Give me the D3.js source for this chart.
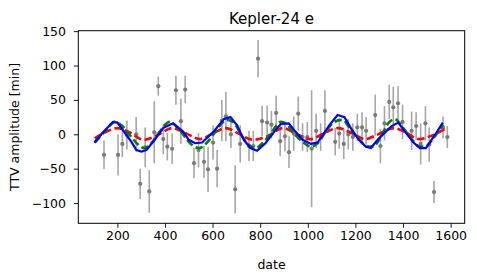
<!DOCTYPE html>
<html>
<head>
<meta charset="utf-8">
<script src="https://cdn.jsdelivr.net/npm/d3@7"></script>
<style>
body { margin: 0; background: #fff; }
text { font-family: "DejaVu Sans", sans-serif; }
.tick text { font-size: 12.5px; fill: #000; }
.label { font-size: 12.5px; }
.title { font-size: 15px; }
</style>
</head>
<body>
<svg id="graph1"></svg>
<script>
// observed transit times
var dates = [144,203,221,240,279,296,317,334,355,372,393,410,430,446,467,485,522,541,564,581,602,619,639,656,677,695,716,753,771,791,808,829,847,867,884,904,921,941,960,978,998,1016,1035,1054,1072,1115,1132,1151,1170,1189,1208,1228,1245,1283,1305,1322,1342,1359,1379,1398,1436,1455,1474,1494,1510,1530,1568,1586]
var ttv = [-30,-30,-14,-1,0,-72,-19,-83,3,70,-7,-18,-21,64,19,65,-42,-23,-40,-51,-12,-50,20,26,0,-80,-14,-17,-17,110,19,17,14,31,-10,-3,-26,1,30,-4,-4,-21,5,-4,34,-11,1,-14,0,-4,10,10,5,28,-17,16,47,39,45,18,5,12,-14,16,-15,-84,10,-4]
var errs = [21,30,19,21,25,22,29,31,45,14,22,20,22,21,33,20,22,25,23,33,25,27,30,36,20,35,27,22,22,27,22,25,20,25,22,22,23,25,25,20,22,85,25,20,30,20,22,22,22,20,20,22,20,30,25,25,25,30,25,25,28,20,30,25,25,16,16,16]

// model curves [date, ttv]
var redModel = [[105,-6],[150,3],[200,9],[250,3],[310,-8],[370,-1],[430,9],[490,1],[548,-7],[600,1],[655,9],[710,1],[770,-8],[830,-3],[895,9],[960,-1],[1010,-7],[1070,2],[1125,9],[1190,1],[1240,-7],[1290,-1],[1360,9],[1410,3],[1468,-7],[1520,-2],[1576,8]]
var greenModel = [[106,-12],[150,5],[190,18],[217,13],[252,-1],[287,-15],[315,-20],[343,-13],[378,4],[420,18],[462,6],[506,-13],[542,-20],[577,-12],[612,4],[661,21],[689,17],[724,-3],[752,-15],[780,-20],[815,-11],[850,4],[887,18],[910,15],[943,1],[978,-11],[1013,-18],[1041,-13],[1076,4],[1111,18],[1146,21],[1181,6],[1216,-8],[1251,-18],[1275,-18],[1310,-1],[1338,16],[1366,22],[1401,9],[1436,-7],[1464,-17],[1492,-18],[1527,-6],[1567,14]]
var blueModel = [[103,-12],[140,3],[182,18],[200,17],[230,3],[259,-11],[280,-23],[301,-25],[322,-23],[357,-8],[392,9],[434,16],[476,4],[500,-8],[527,-13],[556,-12],[605,4],[647,22],[675,25],[703,13],[731,-8],[759,-20],[787,-24],[822,-13],[871,9],[887,15],[920,16],[943,6],[978,-8],[1013,-14],[1041,-12],[1090,13],[1125,28],[1154,25],[1181,9],[1210,-6],[1244,-18],[1265,-20],[1296,-7],[1331,5],[1352,12],[1380,17],[1408,4],[1444,-12],[1471,-20],[1496,-20],[1534,-1],[1567,17]]

var xTicks = [200,400,600,800,1000,1200,1400,1600]
var yTicks = [-100,-50,0,50,100,150]

var screen = {width: 477, height: 276}
var margins = {left: 78.3, right: 12.3, top: 30.7, bottom: 52.7}
var graph = {
    width: screen.width - margins.left - margins.right,
    height: screen.height - margins.top - margins.bottom
}

var svg = d3.select("#graph1")
    .attr("width", screen.width)
    .attr("height", screen.height)

var target = svg.append("g")
    .attr("transform", "translate(" + margins.left + "," + margins.top + ")")

var xScale = d3.scaleLinear()
    .domain([36, 1659])
    .range([0, graph.width])

var yScale = d3.scaleLinear()
    .domain([-129.4, 150.6])
    .range([graph.height, 0])

// error bars
var pts = target.append("g")
pts.selectAll("line")
    .data(dates)
    .enter()
    .append("line")
    .attr("x1", function(d) { return xScale(d) })
    .attr("x2", function(d) { return xScale(d) })
    .attr("y1", function(d, i) { return yScale(ttv[i] - errs[i]) })
    .attr("y2", function(d, i) { return yScale(ttv[i] + errs[i]) })
    .attr("stroke", "#a6a6a6")
    .attr("stroke-width", 1.6)

pts.selectAll("circle")
    .data(dates)
    .enter()
    .append("circle")
    .attr("cx", function(d) { return xScale(d) })
    .attr("cy", function(d, i) { return yScale(ttv[i]) })
    .attr("r", 2.1)
    .attr("fill", "#7a7a7a")

var line = d3.line()
    .x(function(d) { return xScale(d[0]) })
    .y(function(d) { return yScale(d[1]) })

target.append("path")
    .datum(redModel)
    .attr("d", line.curve(d3.curveMonotoneX))
    .attr("fill", "none")
    .attr("stroke", "red")
    .attr("stroke-width", 2.6)
    .attr("stroke-dasharray", "7.5,3.5")

target.append("path")
    .datum(greenModel)
    .attr("d", line.curve(d3.curveMonotoneX))
    .attr("fill", "none")
    .attr("stroke", "green")
    .attr("stroke-width", 2.6)
    .attr("stroke-dasharray", "7.5,3.5")

target.append("path")
    .datum(blueModel)
    .attr("d", line.curve(d3.curveLinear))
    .attr("fill", "none")
    .attr("stroke", "blue")
    .attr("stroke-width", 2.2)

// axes
var xAxis = d3.axisBottom(xScale).tickValues(xTicks).tickSize(4.5).tickPadding(3).tickFormat(d3.format("d"))
var yAxis = d3.axisLeft(yScale).tickValues(yTicks).tickSize(4.5).tickPadding(7.8).tickFormat(d3.format("d"))

target.append("g")
    .attr("transform", "translate(0," + graph.height + ")")
    .call(xAxis)

target.append("g")
    .call(yAxis)

target.selectAll(".domain").remove()
target.selectAll(".tick line").attr("stroke", "#000").attr("stroke-width", 0.9)

target.append("rect")
    .attr("width", graph.width)
    .attr("height", graph.height)
    .attr("fill", "none")
    .attr("stroke", "#000")
    .attr("stroke-width", 1)

// labels
svg.append("text")
    .text("Kepler-24 e")
    .classed("title", true)
    .attr("text-anchor", "middle")
    .attr("x", margins.left + graph.width / 2)
    .attr("y", 24)

svg.append("text")
    .text("date")
    .classed("label", true)
    .attr("text-anchor", "middle")
    .attr("x", margins.left + graph.width / 2)
    .attr("y", 269)

svg.append("g")
    .attr("transform", "translate(19," + (margins.top + graph.height / 2) + ")")
    .append("text")
    .text("TTV amplitude [min]")
    .classed("label", true)
    .attr("text-anchor", "middle")
    .attr("transform", "rotate(270)")
</script>
</body>
</html>
